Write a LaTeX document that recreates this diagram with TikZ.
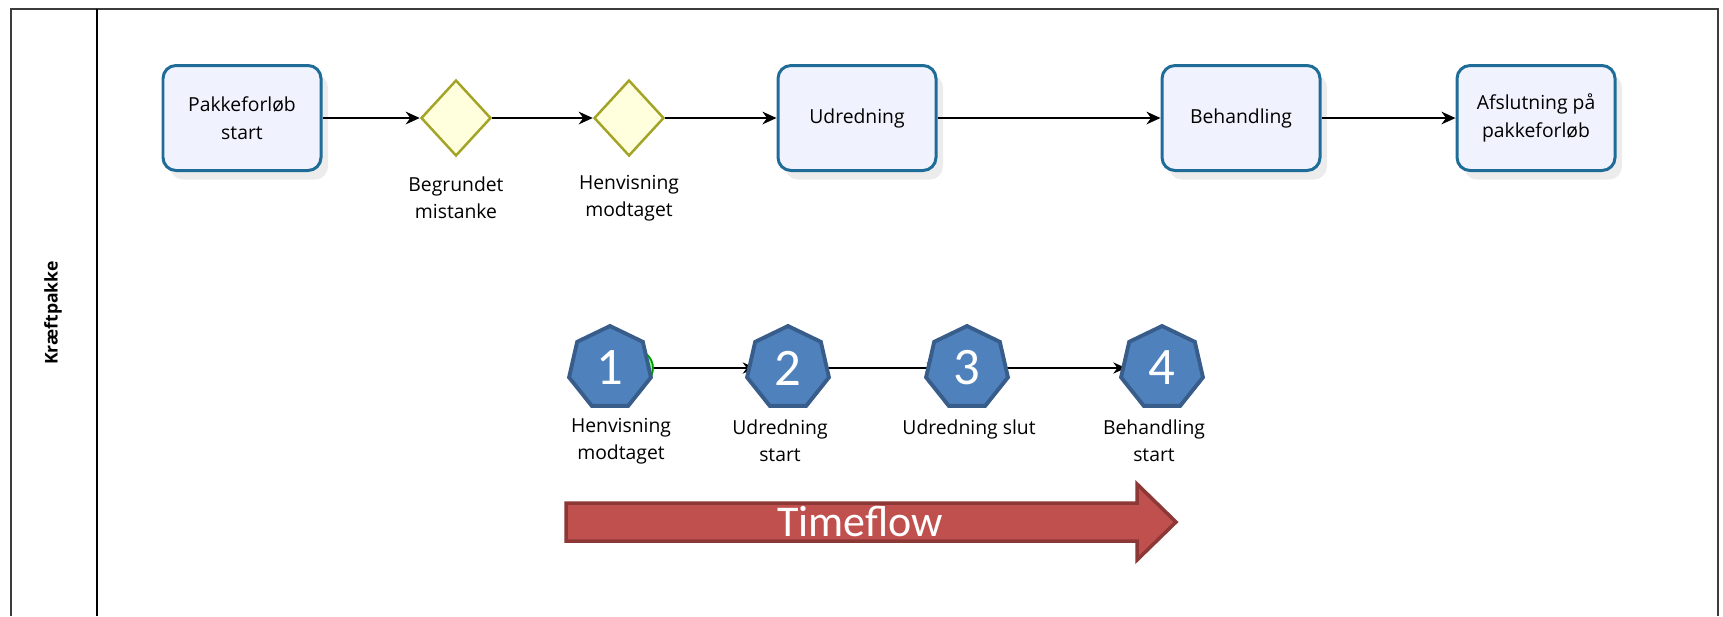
\documentclass[tikz,border=0pt]{standalone}
\usepackage{fontspec}
\setmainfont{Open Sans}
\newfontfamily\calibri{Carlito}
\usetikzlibrary{shapes.geometric,arrows.meta,shadows}

\definecolor{taskblue}{RGB}{31,108,152}
\definecolor{taskfill}{RGB}{240,243,253}
\definecolor{gateolive}{RGB}{163,163,38}
\definecolor{gatefill}{RGB}{255,255,222}
\definecolor{heptfill}{RGB}{79,129,189}
\definecolor{heptdraw}{RGB}{56,93,138}
\definecolor{flowfill}{RGB}{192,80,77}
\definecolor{flowdraw}{RGB}{140,56,54}
\definecolor{lanegray}{RGB}{60,60,60}

\begin{document}
\begin{tikzpicture}[x=0.1mm, y=-0.1mm, font=\fontsize{5.5}{7.8}\selectfont,
    taskbox/.style={draw=taskblue, line width=0.85pt, fill=taskfill, rounded corners=1.3mm,
        minimum width=15.8mm, minimum height=10.5mm, align=center,
        drop shadow={shadow xshift=0.7mm, shadow yshift=-0.9mm, opacity=0.15}},
    gateway/.style={diamond, draw=gateolive, fill=gatefill, line width=0.7pt,
        minimum width=7mm, minimum height=7.6mm, inner sep=0pt},
    event/.style={circle, minimum size=3.6mm, inner sep=0pt},
    hept/.style={regular polygon, regular polygon sides=7, draw=heptdraw, fill=heptfill,
        line width=1.1pt, minimum size=8.4mm, inner sep=0pt, text=white,
        font=\calibri\fontsize{15}{15}\selectfont},
    flow/.style={-{Stealth[length=4pt, width=3.6pt]}, line width=0.55pt},
    smallflow/.style={-{Stealth[length=3.6pt, width=3.2pt]}, line width=0.45pt},
    label/.style={align=center}
]
    \useasboundingbox (0,0) rectangle (1723,616);

    % Pool and lane
    \draw[lanegray, line width=0.6pt] (11,616) -- (11,9) -- (1718,9) -- (1718,616);
    \draw[black, line width=0.6pt] (97,9) -- (97,616);
    \node[rotate=90, font=\bfseries\fontsize{5}{6}\selectfont] (lane) at (53,313) {Kræftpakke};

    % Process flow
    \node[taskbox] (start) at (242,118) {Pakkeforløb\\start};
    \node[gateway] (mistanke) at (456,118) {};
    \node[gateway] (henvisning) at (629,118) {};
    \node[taskbox] (udredning) at (857,118) {Udredning};
    \node[taskbox] (behandling) at (1241,118) {Behandling};
    \node[taskbox] (afslutning) at (1536,118) {Afslutning på\\pakkeforløb};

    \node[label] (mistankelbl) at (456,198) {Begrundet\\mistanke};
    \node[label] (henvisninglbl) at (629,198) {Henvisning\\modtaget};

    \draw[flow] (start) -- (mistanke);
    \draw[flow] (mistanke) -- (henvisning);
    \draw[flow] (henvisning) -- (udredning);
    \draw[flow] (udredning) -- (behandling);
    \draw[flow] (behandling) -- (afslutning);

    % Events behind the milestones
    \node[event, draw=green!60!black, fill=green!45, line width=0.5pt] (ev1) at (635,368) {};
    \node[event, draw=gray, fill=white] (ev2) at (774,368) {};
    \node[event, draw=gray, fill=white] (ev3) at (958,368) {};
    \node[event, draw=red!80!black, fill=white, line width=1.2pt, minimum size=4mm] (ev4) at (1148,368) {};

    \draw[smallflow] (ev1) -- (ev2);
    \draw[smallflow] (ev2) -- (ev3);
    \draw[smallflow] (ev3) -- (ev4);

    % Milestones
    \foreach \x/\n in {610/1, 788/2, 967/3, 1162/4} {
        \node[hept] (m\n) at (\x,368) {\n};
    }

    \node[label] (m1lbl) at (621,441) {Henvisning\\modtaget};
    \node[label] (m2lbl) at (780,441) {Udredning\\start};
    \node[label] (m3lbl) at (969,429) {Udredning slut};
    \node[label] (m4lbl) at (1154,441) {Behandling\\start};

    % Timeflow arrow
    \draw[flowdraw, fill=flowfill, line width=1pt, line join=miter]
        (566,503) -- (1137,503) -- (1137,484) -- (1176,522) -- (1137,560) -- (1137,541) -- (566,541) -- cycle;
    \node[text=white, font=\calibri\fontsize{12.5}{12.5}\selectfont] (timeflow) at (860,522) {Timeflow};

\end{tikzpicture}
\end{document}
